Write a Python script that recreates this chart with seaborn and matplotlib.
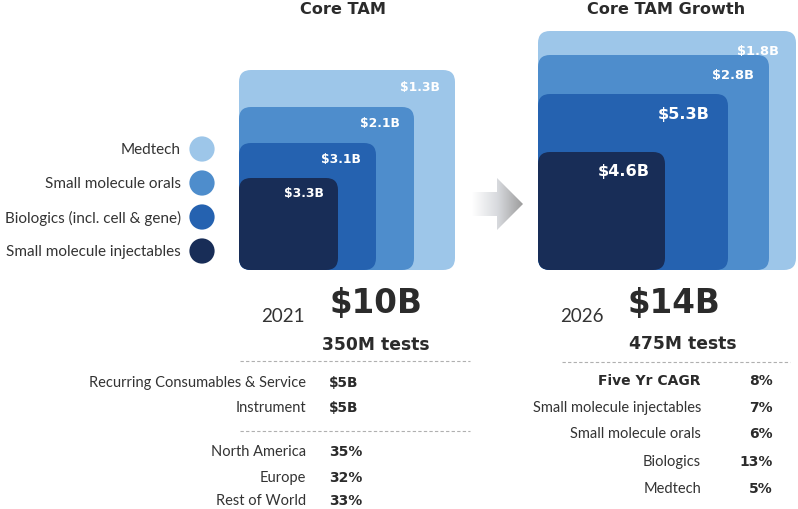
import numpy as np
import pandas as pd
import matplotlib
matplotlib.use("Agg")
import matplotlib.pyplot as plt
import seaborn as sns
from matplotlib.patches import FancyBboxPatch, Polygon

# ---------------- data ----------------
segments = ["Medtech", "Small molecule orals", "Biologics (incl. cell & gene)", "Small molecule injectables"]
tam_2021 = [1.3, 2.1, 3.1, 3.3]        # $B
tam_2026 = [1.8, 2.8, 5.3, 4.6]        # $B
seg_colors = ["#9dc6e9", "#4e8dcc", "#2562b0", "#182d57"]

year_left, total_left, tests_left = "2021", "$10B", "350M tests"
year_right, total_right, tests_right = "2026", "$14B", "475M tests"

revenue_labels = ["Recurring Consumables & Service", "Instrument"]
revenue_values = ["$5B", "$5B"]
region_labels = ["North America", "Europe", "Rest of World"]
region_values = [35, 32, 33]

cagr_labels = ["Five Yr CAGR", "Small molecule injectables", "Small molecule orals", "Biologics", "Medtech"]
cagr_values = [8, 7, 6, 13, 5]

# ---------------- layout (pixel space) ----------------
left_boxes = [(239, 71, 455), (239, 108, 414), (239, 144, 376), (239, 179, 338)]
right_boxes = [(538, 32, 796), (538, 56, 769), (538, 95, 728), (538, 153, 665)]
box_bottom = 271
left_lbl = [(440, 87, 8.9), (400, 124, 8.9), (361, 160, 8.9), (324, 194, 8.9)]
right_lbl = [(779, 51, 9.4), (754, 75, 9.4), (710, 115, 11.6), (650, 172, 11.6)]

sns.set_theme(style="white")
plt.rcParams["font.family"] = ["Lato", "DejaVu Sans"]
BOLD = ["DejaVu Sans"]
TXT = "#333333"
BTXT = "#2b2b2b"

fig = plt.figure(figsize=(7.98, 5.10), dpi=100)
ax = fig.add_axes([0, 0, 1, 1])

def draw_boxes(boxes, values, lbls):
    for (x0, yt, x1), v, col, (lx, ly, fs) in zip(boxes, values, seg_colors, lbls):
        p = FancyBboxPatch((x0, yt), x1 - x0, box_bottom - yt,
                           boxstyle="round,pad=0,rounding_size=12",
                           fc=col, ec="none", zorder=2)
        ax.add_patch(p)
        ax.text(lx, ly, f"${v:.1f}B", ha="right", va="center", color="white",
                fontsize=fs, fontweight="bold", family=BOLD, zorder=3)

# legend dots via seaborn
leg = pd.DataFrame({"segment": segments,
                    "x": [202] * len(segments),
                    "y": [150 + 34 * i for i in range(len(segments))]})
sns.scatterplot(data=leg, x="x", y="y", hue="segment", palette=seg_colors,
                s=330, edgecolor="none", legend=False, ax=ax, zorder=3)
for _, r in leg.iterrows():
    ax.text(181, r["y"], r["segment"], ha="right", va="center", fontsize=11, color=TXT)
ax.set_xlim(0, 798)
ax.set_ylim(510, 0)
ax.axis("off")

draw_boxes(left_boxes, tam_2021, left_lbl)
draw_boxes(right_boxes, tam_2026, right_lbl)

ax.text(343, 10, "Core TAM", ha="center", va="center", fontsize=11.6,
        fontweight="bold", family=BOLD, color=BTXT)
ax.text(666, 10, "Core TAM Growth", ha="center", va="center", fontsize=11.6,
        fontweight="bold", family=BOLD, color=BTXT)

# gradient arrow
arrow = Polygon([(472, 193), (497, 193), (497, 179), (523, 205), (497, 231), (497, 217), (472, 217)],
                closed=True, fc="none", ec="none", transform=ax.transData)
ax.add_patch(arrow)
grad = np.linspace(0, 1, 256).reshape(1, -1)
cmap = matplotlib.colors.LinearSegmentedColormap.from_list("g", ["#ffffff", "#d8dade", "#9c9c9c"])
im = ax.imshow(grad, extent=(472, 523, 231, 179), cmap=cmap, aspect="auto", zorder=1)
im.set_clip_path(arrow)
ax.set_xlim(0, 798)
ax.set_ylim(510, 0)

# totals
ax.text(305, 317, year_left, ha="right", va="center", fontsize=13.5, color=TXT)
ax.text(330, 304, total_left, ha="left", va="center", fontsize=23.5,
        fontweight="bold", family=BOLD, color=BTXT)
ax.text(376, 345, tests_left, ha="center", va="center", fontsize=12.3,
        fontweight="bold", family=BOLD, color=BTXT)
ax.text(604, 317, year_right, ha="right", va="center", fontsize=13.5, color=TXT)
ax.text(628, 304, total_right, ha="left", va="center", fontsize=23.5,
        fontweight="bold", family=BOLD, color=BTXT)
ax.text(683, 344, tests_right, ha="center", va="center", fontsize=12.3,
        fontweight="bold", family=BOLD, color=BTXT)

# dashed separators
for (x0, x1, y) in [(240, 470, 362), (240, 470, 432), (562, 790, 363)]:
    ax.plot([x0, x1], [y, y], ls=(0, (3, 2)), lw=0.8, color="#b0b0b0", zorder=1)

# left table
for lab, val, y in zip(revenue_labels, revenue_values, [383, 408]):
    ax.text(306, y, lab, ha="right", va="center", fontsize=10.5, color=TXT)
    ax.text(329, y, val, ha="left", va="center", fontsize=9.8,
            fontweight="bold", family=BOLD, color=BTXT)
for lab, val, y in zip(region_labels, region_values, [452, 478, 501]):
    ax.text(306, y, lab, ha="right", va="center", fontsize=10.5, color=TXT)
    ax.text(329, y, f"{val}%", ha="left", va="center", fontsize=10,
            fontweight="bold", family=BOLD, color=BTXT)

# right table
for i, (lab, val, y) in enumerate(zip(cagr_labels, cagr_values, [381, 408, 434, 462, 489])):
    if i == 0:
        ax.text(701, y, lab, ha="right", va="center", fontsize=10,
                fontweight="bold", family=BOLD, color=BTXT)
    else:
        ax.text(701, y, lab, ha="right", va="center", fontsize=10.5, color=TXT)
    ax.text(773, y, f"{val}%", ha="right", va="center", fontsize=10,
            fontweight="bold", family=BOLD, color=BTXT)

fig.savefig("out.png", dpi=100, facecolor="white")
